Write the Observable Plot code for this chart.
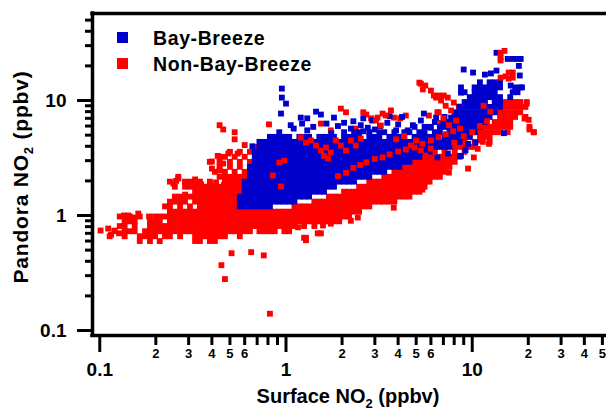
<!DOCTYPE html>
<html>
<head>
<meta charset="utf-8">
<script src="https://cdn.jsdelivr.net/npm/d3@7"></script>
<script src="https://cdn.jsdelivr.net/npm/@observablehq/plot@0.6"></script>
<style>
  html, body { margin: 0; padding: 0; background: #fff; overflow: hidden; }
  #chart { width: 606px; height: 412px; }
</style>
</head>
<body>
<div id="chart"></div>
<script>
// ---- Series names and colours ----
const seriesNames = ["Bay-Breeze", "Non-Bay-Breeze"];
const seriesColors = ["#0000cc", "#ff0000"];

// ---- Axis ticks ----
const xMajor = [0.1, 1, 10];
const xMajorLabels = ["0.1", "1", "10"];
const xMinorLabeled = [0.2, 0.3, 0.4, 0.5, 0.6, 2, 3, 4, 5, 6, 20, 30, 40, 50];
const xMinorLabels = ["2", "3", "4", "5", "6", "2", "3", "4", "5", "6", "2", "3", "4", "5"];
const xMinorPlain = [0.7, 0.8, 0.9, 7, 8, 9];
const yMajor = [0.1, 1, 10];
const yMajorLabels = ["0.1", "1", "10"];
const yMinor = [0.2, 0.3, 0.4, 0.5, 0.6, 0.7, 0.8, 0.9, 2, 3, 4, 5, 6, 7, 8, 9, 20, 30, 40, 50];

// ---- Non-Bay-Breeze (red): dense rows [Pandora NO2, [Surface NO2 ...]] ----
const nonBayRows = [
  [0.60, [0.164,0.186,0.21,0.325,0.345,0.39,0.415]],
  [0.66, [0.113,0.136,0.164,0.175,0.186,0.198,0.224,0.238,0.27,0.325,0.345,0.367,0.39,0.415,0.44,0.47,0.565]],
  [0.73, [0.12,0.136,0.145,0.154,0.175,0.186,0.198,0.21,0.224,0.238,0.253,0.27,0.287,0.305,0.325,0.345,0.367,0.39,0.415,0.44,0.47,0.5,0.53,0.565,0.6,0.64,0.72,0.77,0.82,0.87,0.98,1.04]],
  [0.81, [0.128,0.136,0.154,0.186,0.198,0.21,0.224,0.238,0.253,0.27,0.287,0.305,0.325,0.345,0.367,0.39,0.415,0.44,0.47,0.5,0.53,0.565,0.6,0.64,0.68,0.72,0.77,0.82,0.87,0.92,0.98,1.04,1.11,1.25,1.42]],
  [0.89, [0.136,0.145,0.154,0.186,0.198,0.21,0.238,0.253,0.27,0.287,0.305,0.325,0.345,0.367,0.39,0.415,0.44,0.47,0.5,0.53,0.565,0.6,0.64,0.68,0.72,0.77,0.82,0.87,0.92,0.98,1.04,1.11,1.18,1.25,1.33,1.42,1.51,1.6,1.7,1.81,1.93]],
  [0.98, [0.128,0.136,0.145,0.164,0.198,0.21,0.224,0.238,0.253,0.27,0.287,0.305,0.325,0.345,0.367,0.39,0.415,0.44,0.47,0.5,0.53,0.565,0.6,0.64,0.68,0.72,0.77,0.82,0.87,0.92,0.98,1.04,1.11,1.18,1.25,1.33,1.42,1.51,1.6,1.7,1.81,1.93,2.05,2.18]],
  [1.08, [0.238,0.253,0.27,0.287,0.305,0.325,0.345,0.367,0.39,0.415,0.44,0.47,0.5,0.53,0.565,0.6,0.64,0.68,0.72,0.77,0.82,0.87,0.92,0.98,1.04,1.11,1.18,1.25,1.33,1.42,1.51,1.6,1.7,1.81,1.93,2.05,2.18,2.32,2.47]],
  [1.2, [0.224,0.238,0.27,0.305,0.345,0.367,0.39,0.415,0.44,0.47,0.5,0.53,0.565,1.11,1.18,1.25,1.33,1.42,1.51,1.6,1.7,1.81,1.93,2.05,2.18,2.32,2.47,2.63,2.8]],
  [1.32, [0.238,0.253,0.27,0.287,0.325,0.345,0.367,0.39,0.415,0.44,0.47,0.5,0.53,1.42,1.51,1.6,1.7,1.81,1.93,2.05,2.18,2.32,2.47,2.63,2.8,2.98,3.17,3.37,3.59,3.82]],
  [1.46, [0.253,0.27,0.287,0.305,0.325,0.345,0.367,0.39,0.415,0.44,0.47,0.5,0.53,0.565,0.6,0.64,1.7,1.81,1.93,2.05,2.18,2.32,2.47,2.63,2.8,2.98,3.17,3.37,3.59,3.82,4.06,4.32,4.6]],
  [1.61, [0.325,0.345,0.367,0.39,0.415,0.44,0.47,0.5,0.53,0.565,0.6,2.05,2.18,2.32,2.47,2.63,2.8,2.98,3.17,3.37,3.59,3.82,4.06,4.32,4.6,4.9,5.2]],
  [1.78, [0.253,0.287,0.305,0.325,0.345,0.367,0.39,0.415,0.44,0.47,0.5,0.53,0.565,0.6,0.64,2.47,2.63,2.8,2.98,3.17,3.37,3.59,3.82,4.06,4.32,4.6,4.9,5.2,5.55]],
  [1.97, [0.238,0.287,0.305,0.325,0.345,0.39,0.47,0.5,0.53,0.565,0.6,0.64,2.8,2.98,3.17,3.37,3.59,3.82,4.06,4.32,4.6,4.9,5.2,5.55,5.9]],
  [2.17, [0.264,0.44,0.47,0.5,0.53,0.565,0.6,0.64,3.37,3.59,3.82,4.06,4.32,4.6,4.9,5.2,5.55,5.9,6.3,6.7]],
  [2.4, [0.415,0.47,0.53,0.6,0.64,3.82,4.06,4.32,4.6,4.9,5.2,5.55,5.9,6.3,6.7,7.1]],
  [2.65, [0.44,0.5,0.565,0.64,4.32,4.6,4.9,5.2,5.55,5.9,6.3,6.7,7.1,7.55]],
  [2.93, [0.39,0.44,0.5,0.565,0.64,0.68,4.9,5.2,5.55,5.9,6.3,6.7,7.1,7.55,8.05]],
  [3.24, [0.44,0.47,0.53,0.6,0.68,5.55,5.9,6.3,6.7,7.1,7.55,8.05,8.55]],
  [3.58, [0.5,0.565,0.64,6.3,7.1,8.05,9.1]],
  [3.95, [0.68,0.77,8.05,8.55,9.1,9.7,10.3]],
  [4.37, [9.1,10.3,11.4,12.4]],
  [4.83, [9.7,11.0,11.7,12.4]],
  [5.3, [11.0,11.7,12.4,13.2,14.1,15.5,21.4]],
  [5.9, [11.7,12.4,13.2,14.1,15.0,16.0,20.3]],
  [6.5, [13.2,14.1,15.0,16.0]],
  [7.2, [14.1,15.0,16.0,17.0,19.3]],
  [7.9, [14.1,15.0,16.0,17.0,18.1]],
  [8.8, [15.0,16.0,17.0,18.1,19.3]],
  [9.7, [14.1,15.0,16.0,17.0,18.1,19.6]]
];

// ---- Non-Bay-Breeze (red): scattered points [Surface NO2, Pandora NO2] ----
const nonBayPoints = [
  [0.101,0.74],[0.111,0.77],[0.115,0.68],[0.12,0.74],[0.127,0.70],[0.135,1.0],[0.142,1.0],[0.161,1.04],[0.184,0.98],[0.153,0.96],
  [0.44,6.1],[0.46,5.6],[0.53,5.3],[0.53,4.6],[0.60,4.1],[0.81,6.2],[0.43,3.3],[0.40,2.95],[0.40,2.56],[0.44,2.46],[0.46,2.83],[0.49,3.46],[0.55,3.46],
  [0.248,1.9],[0.264,2.1],[0.257,2.0],[0.287,1.94],[0.31,1.94],[0.325,2.06],[0.35,1.86],[0.35,1.72],[0.391,1.86],[0.421,1.94],[0.465,1.86],[0.432,1.68],[0.287,1.52],
  [1.97,8.5],[2.6,7.9],[3.1,7.1],[3.66,8.2],[3.8,7.1],[5.3,14],[6.0,12.2],[6.4,10.6],[5.2,14.3],[5.6,13.5],[5.43,12.5],[6.22,11.05],[6.61,11.05],[7.03,11.05],[7.39,10.6],[7.96,9.6],[8.47,8.87],[8.68,8.19],
  [2.1,7.9],[2.7,7.55],[2.86,7.0],[3.3,7.7],[4.1,7.0],[4.4,7.4],[5.85,7.4],[6.5,7.9],[6.8,6.4],[1.54,6.3],[1.74,5.5],[2.37,5.7],
  [0.51,0.47],[0.65,0.48],[0.76,0.45],[0.45,0.37],[0.47,0.28],[0.82,0.14],[1.16,0.79],[1.28,0.64],[1.25,0.64],[1.28,0.61],[1.48,0.70],[1.54,0.70],[1.58,0.82],[1.79,0.94],[1.74,0.85],[2.23,0.90],[2.43,0.96],
  [2.86,1.41],[3.79,1.17],[5.4,1.68],[4.7,2.14],[4.85,2.18],[6.2,2.32],[5.85,2.23],[6.5,2.3],[7.5,2.36],[7.4,2.72],[9.5,2.56],[10.2,3.2],[10.7,3.8],[11.1,4.5],[12.3,4.2],
  [19.6,9.4],[20.1,6.8],[21.4,5.3],[20.3,5.6],[19.1,6.97]
];

// ---- Non-Bay-Breeze (red) points that sit on top of the blue cloud ----
const nonBayOverPoints = [
  [14.2,26],[14.9,27],[14.2,23.6],[14.2,22.3],[15.7,17.5],[15.7,15.5],[15.1,16.2],[14.2,15.8],[16.5,15.8],[16.5,17.5],
  [6.8,10],[7.2,9.0],[7.7,8.2],[6.6,7.9],[7.0,7.0],[8.2,6.7],[7.5,6.1],[11.5,9.0],[12.5,8.0],
  [1.36,4.5],[1.45,4.06],[1.54,3.67],[1.64,3.9],[1.85,4.5],[1.2,4.77],[1.28,4.3],[1.6,3.3],[1.68,3.13],[1.74,3.53],[1.97,4.06],[2.1,3.67],
  [4.68,4.06],[5.0,4.49],[5.3,3.67],[5.63,3.32],[5.99,3.82],[3.04,6.7],[3.23,6.06],[3.43,7.41],[0.92,2.89],[0.98,3.0],[2.23,4.49],[2.37,4.06],[2.52,4.67],[0.85,2.23],[0.94,1.79],
  [2.3,2.6],[2.5,2.75],[2.7,2.9],[3.0,3.1],[3.3,3.2],[3.6,3.4],[4.0,3.6],[4.4,3.75],[4.9,3.9],[5.4,4.2],[6.0,4.5],[6.6,4.8],[7.2,5.1],[7.9,5.4],[8.6,5.7],
  [1.9,2.2],[2.1,2.35],[3.9,4.6],[4.3,4.9],[8.0,4.3],[9.0,4.9],[10.0,5.3],[11.0,6.0],[12.0,6.6]
];

// ---- Bay-Breeze (blue): dense rows [Pandora NO2, [Surface NO2 ...]] ----
const bayRows = [
  [1.2, [0.565,0.6,0.64,0.68,0.72,0.77,0.82]],
  [1.32, [0.565,0.6,0.64,0.68,0.72,0.77,0.82,0.87,0.92,0.98,1.04,1.11]],
  [1.46, [0.565,0.6,0.64,0.68,0.72,0.77,0.82,0.87,0.92,0.98,1.04,1.11,1.18,1.25,1.33]],
  [1.61, [0.6,0.64,0.68,0.72,0.77,0.82,0.87,0.92,0.98,1.04,1.11,1.18,1.25,1.33,1.42,1.51,1.6]],
  [1.78, [0.6,0.64,0.68,0.72,0.77,0.82,0.87,0.92,0.98,1.04,1.11,1.18,1.25,1.33,1.42,1.51,1.6,1.7,1.81]],
  [1.97, [0.6,0.64,0.68,0.72,0.77,0.82,0.87,0.92,0.98,1.04,1.11,1.18,1.25,1.33,1.42,1.51,1.6,1.7,1.81,1.93,2.05,2.18,2.32]],
  [2.17, [0.64,0.68,0.72,0.77,0.82,0.87,0.92,0.98,1.04,1.11,1.18,1.25,1.33,1.42,1.51,1.6,1.7,1.81,1.93,2.05,2.18,2.32,2.47,2.63,2.8]],
  [2.4, [0.64,0.68,0.72,0.77,0.82,0.87,0.92,0.98,1.04,1.11,1.18,1.25,1.33,1.42,1.51,1.6,1.7,1.81,1.93,2.05,2.18,2.32,2.47,2.63,2.8,2.98,3.17,3.37]],
  [2.65, [0.64,0.68,0.72,0.77,0.82,0.87,0.92,0.98,1.04,1.11,1.18,1.25,1.33,1.42,1.51,1.6,1.7,1.81,1.93,2.05,2.18,2.32,2.47,2.63,2.8,2.98,3.17,3.37,3.59,3.82,4.06]],
  [2.93, [0.68,0.72,0.77,0.82,0.87,0.92,0.98,1.04,1.11,1.18,1.25,1.33,1.42,1.51,1.6,1.7,1.81,1.93,2.05,2.18,2.32,2.47,2.63,2.8,2.98,3.17,3.37,3.59,3.82,4.06,4.32,4.6]],
  [3.24, [0.68,0.72,0.77,0.82,0.87,0.92,0.98,1.04,1.11,1.18,1.25,1.33,1.42,1.51,1.6,1.7,1.81,1.93,2.05,2.18,2.32,2.47,2.63,2.8,2.98,3.17,3.37,3.59,3.82,4.06,4.32,4.6,4.9,5.2]],
  [3.58, [0.68,0.72,0.77,0.82,0.87,0.92,0.98,1.04,1.11,1.18,1.25,1.33,1.42,1.51,1.6,1.7,1.81,1.93,2.05,2.18,2.32,2.47,2.63,2.8,2.98,3.17,3.37,3.59,3.82,4.06,4.32,4.6,4.9,5.2,5.55,5.9]],
  [3.95, [0.72,0.77,0.82,0.87,0.92,0.98,1.04,1.11,1.18,1.25,1.33,1.42,1.51,1.6,1.7,1.81,1.93,2.05,2.18,2.32,2.47,2.63,2.8,2.98,3.17,3.37,3.59,3.82,4.06,4.32,4.6,4.9,5.2,5.55,5.9,6.3,6.7,7.1,7.55]],
  [4.37, [0.72,0.77,0.82,0.87,0.92,0.98,1.04,1.11,1.18,1.25,1.33,1.42,1.51,1.6,1.7,1.81,1.93,2.05,2.18,2.32,2.47,2.63,2.8,2.98,3.17,3.37,3.59,3.82,4.06,4.32,4.6,4.9,5.2,5.55,5.9,6.3,6.7,7.1,7.55,8.05,8.55]],
  [4.83, [0.82,0.87,0.92,0.98,1.04,1.18,1.25,1.33,1.51,1.6,1.7,1.81,2.05,2.18,2.32,2.47,2.8,2.98,3.17,3.59,3.82,4.06,4.32,4.9,5.2,5.55,5.9,6.3,7.1,7.55,8.05,8.55,9.1,9.7]],
  [5.3, [2.05,2.32,2.47,2.8,3.17,3.37,3.82,4.32,4.6,5.2,5.55,6.3,6.7,7.55,8.05,8.55,9.1,9.7,10.3]],
  [5.9, [4.9,5.55,5.9,6.7,7.1,7.55,8.05,8.55,9.1,9.7,10.3,11.0]],
  [6.5, [6.3,7.1,7.55,8.05,8.55,9.1,9.7,10.3,11.0,11.7]],
  [7.2, [7.1,8.05,8.55,9.1,9.7,10.3,11.0,11.7,12.4]],
  [7.9, [8.05,8.55,9.1,9.7,10.3,11.0,11.7,12.4,13.2]],
  [8.8, [8.55,9.1,9.7,10.3,11.0,11.7,12.4,13.2,14.1]],
  [9.7, [9.1,9.7,10.3,11.0,11.7,13.2,14.1]],
  [10.7, [9.7,10.3,11.0,11.7,12.4,13.2,14.1,16.0]],
  [11.8, [9.1,10.3,11.0,11.7,12.4,13.2,16.5,17.5]],
  [13, [10.3,11.0,11.7,12.4,13.2,14.1,17.0,18.1]],
  [14.4, [11.0,12.4,13.2,14.1]]
];

// ---- Bay-Breeze (blue): scattered points [Surface NO2, Pandora NO2] ----
const bayPoints = [
  [0.95,12.7],[0.95,10.6],[1.0,9.4],[0.94,7.7],[1.2,7.1],[1.22,6.3],[1.3,7.0],[1.45,8.0],[1.54,7.55],[1.06,6.1],[0.92,5.3],[1.81,7.1],[2.05,6.4],
  [2.23,5.7],[2.52,6.1],[2.75,5.8],[3.5,6.4],[3.9,5.5],[4.5,5.5],[5.3,6.7],[5.5,7.7],[6.0,5.8],[6.4,7.1],[7.0,6.3],[7.7,7.1],[8.7,7.0],[9.6,7.4],[10.2,6.3],
  [2.3,6.6],[2.9,6.7],[3.2,6.0],[4.0,6.2],[4.8,6.1],[4.2,7.2],[3.6,7.3],[2.6,7.0],[1.9,6.0],[1.65,6.3],[1.4,5.9],[1.1,5.7],[1.3,5.5],[1.75,5.2],[2.6,5.4],[3.0,5.6],
  [13.5,26],[15.5,23],[16.5,23],[17.5,23],[18.2,23],[17.8,20],[18,16.5],[9.0,18.6],[10.1,17.5],[11.7,16.8],[12.6,17.2],[13.5,18.2],[8.7,13],[8.7,11.7],
  [14.8,5.2],[9.5,4.2],[8.6,3.3],[9.2,3.7],[16.1,13.5],[17.2,12.5],[18.5,13.0],[6.5,3.2],[7.4,3.46],[8.7,3.3],[10.4,4.3],[0.69,3.5],[0.66,4.0]
];

// ---- Build tables ----
const fromRows = rows => rows.flatMap(([y, xs]) => xs.map(x => ({x, y})));
const fromPairs = pairs => pairs.map(([x, y]) => ({x, y}));
const redUnder = fromRows(nonBayRows).concat(fromPairs(nonBayPoints));
const blue = fromRows(bayRows).concat(fromPairs(bayPoints));
const redOver = fromPairs(nonBayOverPoints);

const xDomain = [0.0914, 52.6];
const yDomain = [0.0905, 57.1];
const font = "'Liberation Sans', Arial, Helvetica, sans-serif";
const dotR = 3.3;

const svg = Plot.plot({
  width: 606,
  height: 412,
  marginLeft: 92,
  marginRight: 0,
  marginTop: 13,
  marginBottom: 77,
  x: {type: "log", domain: xDomain},
  y: {type: "log", domain: yDomain},
  style: {fontFamily: font, fontWeight: "bold", color: "#000", background: "#fff"},
  marks: [
    Plot.dot(redUnder, {x: "x", y: "y", symbol: "square", r: dotR, fill: seriesColors[1], clip: true}),
    Plot.dot(blue, {x: "x", y: "y", symbol: "square", r: dotR, fill: seriesColors[0], clip: true}),
    Plot.dot(redOver, {x: "x", y: "y", symbol: "square", r: dotR, fill: seriesColors[1], clip: true}),
    // tick lines only
    Plot.axisY({ticks: yMinor, tickSize: 7, tickFormat: () => "", strokeWidth: 3, label: null}),
    Plot.axisY({ticks: yMajor, tickSize: 15, tickFormat: () => "", strokeWidth: 3, label: null}),
    Plot.axisX({ticks: xMinorPlain.concat(xMinorLabeled), tickSize: 10, tickFormat: () => "", strokeWidth: 3, label: null}),
    Plot.axisX({ticks: xMajor, tickSize: 17, tickFormat: () => "", strokeWidth: 3, label: null}),
    // tick labels
    Plot.text(yMajor, {y: d => d, text: yMajorLabels, frameAnchor: "left", dx: -26, textAnchor: "end",
      fontSize: 19, fontWeight: "bold", fill: "#000"}),
    Plot.text(xMajor, {x: d => d, text: xMajorLabels, frameAnchor: "bottom", dy: 40,
      fontSize: 19, fontWeight: "bold", fill: "#000"}),
    Plot.text(xMinorLabeled, {x: d => d, text: xMinorLabels, frameAnchor: "bottom", dy: 22,
      fontSize: 13, fontWeight: "bold", fill: "#000"}),
    // frame (left, top, bottom)
    Plot.ruleX([xDomain[0]], {strokeWidth: 3.5, strokeLinecap: "square"}),
    Plot.ruleY([yDomain[0], yDomain[1]], {strokeWidth: 3.5, strokeLinecap: "square"})
  ]
});

const s = d3.select(svg);

// Legend inside the plot
const legend = [
  {name: seriesNames[0], color: seriesColors[0], y: 32},
  {name: seriesNames[1], color: seriesColors[1], y: 58}
];
legend.forEach(l => {
  s.append("rect").attr("x", 117).attr("y", l.y).attr("width", 11).attr("height", 11).attr("fill", l.color);
  s.append("text").attr("x", 153).attr("y", l.y + 13).attr("text-anchor", "start")
    .attr("font-family", font).attr("font-weight", "bold").attr("font-size", 19.5)
    .attr("letter-spacing", 0.6)
    .attr("fill", "#000").text(l.name);
});

// Axis titles with subscript 2
function title(sel, before, after) {
  sel.attr("font-family", font).attr("font-weight", "bold")
    .attr("fill", "#000").attr("text-anchor", "middle");
  sel.append("tspan").text(before);
  sel.append("tspan").attr("font-size", 13).attr("dy", 5).text("2");
  sel.append("tspan").attr("dy", -5).text(after);
}
title(s.append("text").attr("x", 348).attr("y", 403).attr("font-size", 20), "Surface NO", " (ppbv)");
title(s.append("text").attr("transform", "translate(28,177) rotate(-90)").attr("font-size", 21)
  .attr("letter-spacing", 0.8), "Pandora NO", " (ppbv)");

document.getElementById("chart").appendChild(svg);
</script>
</body>
</html>
